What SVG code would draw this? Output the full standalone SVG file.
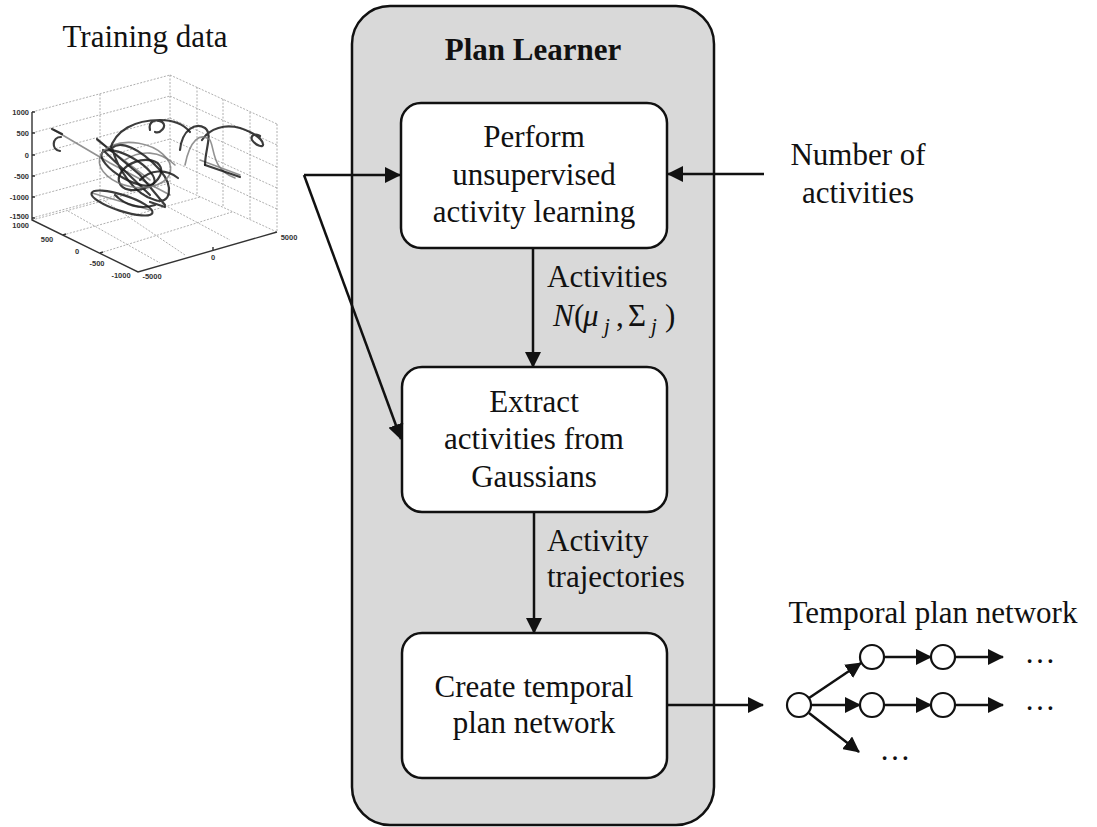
<svg xmlns="http://www.w3.org/2000/svg" width="1097" height="827" viewBox="0 0 1097 827">
<style>
  .t { font-family: "Liberation Serif", "Times New Roman", serif; font-size: 31px; fill: #111; }
  .tb { font-family: "Liberation Serif", "Times New Roman", serif; font-size: 31px; font-weight: bold; fill: #111; }
  .m { font-family: "Liberation Serif", "Times New Roman", serif; font-size: 31px; fill: #111; }
  .box { fill: #ffffff; stroke: #111; stroke-width: 2.5; }
  .edge { fill: none; stroke: #111; stroke-width: 2.5; }
  .grid { fill: none; stroke: #9a9a9a; stroke-width: 0.8; stroke-dasharray: 2 1.5; }
  .ax { fill: none; stroke: #333; stroke-width: 1.4; }
  .tick { font-family: "Liberation Sans", Arial, sans-serif; font-size: 7.5px; font-weight: bold; fill: #333; }
  .crv { fill: none; stroke: #1a1a1a; stroke-width: 2.2; stroke-linecap: round; opacity: 0.85; }
  .crvl { fill: none; stroke: #777; stroke-width: 1.6; stroke-linecap: round; opacity: 0.8; }
  .node { fill: #fff; stroke: #111; stroke-width: 2.2; }
</style>
<defs>
  <marker id="ah" markerUnits="userSpaceOnUse" markerWidth="16" markerHeight="16" viewBox="0 0 16 16" refX="15" refY="8" orient="auto">
    <path d="M0,0 L16,8 L0,16 z" fill="#111"/>
  </marker>
</defs>
<rect width="1097" height="827" fill="#fff"/>

<!-- Training data plot -->
<g id="training-data">
  <text class="t" x="145" y="47" text-anchor="middle">Training data</text>
  <g id="plot">
    <path class="grid" d="M32,112 L170,75 M32,133 L170,96 M32,155 L170,118 M32,176 L170,139 M32,197 L170,160 M32,218 L170,181 M100,94 L100,202 M170,75 L170,183"/>
    <path class="grid" d="M170,75 L277,124 M170,96 L277,145 M170,118 L277,167 M170,139 L277,188 M170,160 L277,209 M197,87 L197,195 M223,99 L223,207 M250,112 L250,220 M277,124 L277,232"/>
    <path class="grid" d="M32,220 L170,183 M63,235 L200,197 M100,253 L232,212 M170,183 L277,232 M140,192 L230,240 M105,201 L185,255 M68,211 L160,263"/>
    <path class="ax" d="M32,112 L32,220 L138,272 L277,232"/>
    <path class="ax" d="M32,112 h3 M32,133 h3 M32,155 h3 M32,176 h3 M32,197 h3 M32,218 h3 M63,235 l3,-1 M100,253 l3,-1 M213,250 l0,-3"/>
    <g class="tick">
      <text x="29" y="115" text-anchor="end">1000</text>
      <text x="29" y="136" text-anchor="end">500</text>
      <text x="29" y="158" text-anchor="end">0</text>
      <text x="29" y="179" text-anchor="end">-500</text>
      <text x="29" y="200" text-anchor="end">-1000</text>
      <text x="29" y="219" text-anchor="end">-1500</text>
      <text x="29" y="228" text-anchor="end">1000</text>
      <text x="47" y="242" text-anchor="middle">500</text>
      <text x="77" y="254" text-anchor="middle">0</text>
      <text x="97" y="266" text-anchor="middle">-500</text>
      <text x="121" y="278" text-anchor="middle">-1000</text>
      <text x="152" y="279" text-anchor="middle">-5000</text>
      <text x="213" y="260" text-anchor="middle">0</text>
      <text x="289" y="240" text-anchor="middle">5000</text>
    </g>
    <path class="crvl" d="M54,130 L110,163 L170,195 M97,140 L150,180 M92,193 L150,210 M200,160 L240,175 M125,160 C140,150 160,150 175,165"/>
    <path class="crv" d="M52,129 L62,134 M61,137 C52,137 51,150 60,151"/>
    <path class="crv" d="M97,139 L140,175 L165,205 M103,150 L150,195 M112,148 C120,140 140,148 160,170 C175,188 170,205 155,200 C135,195 118,170 112,148"/>
    <ellipse class="crv" cx="128" cy="168" rx="30" ry="11" transform="rotate(30 128 168)"/>
    <ellipse class="crv" cx="140" cy="175" rx="22" ry="14" transform="rotate(-20 140 175)"/>
    <ellipse class="crv" cx="122" cy="203" rx="32" ry="8" transform="rotate(18 122 203)" opacity="0.6"/>
    <ellipse class="crvl" cx="135" cy="165" rx="36" ry="22" transform="rotate(10 135 165)"/>
    <path class="crv" d="M110,150 C115,130 135,120 160,120 C175,120 185,126 190,132 M150,130 C148,122 155,118 162,122 C168,126 160,134 155,132"/>
    <path class="crv" d="M180,150 C182,130 195,122 205,128 C213,134 205,150 205,165 M202,140 C210,128 225,124 240,128 C252,132 262,138 263,144 C264,148 256,146 252,140 C250,135 256,133 260,136"/>
    <path class="crvl" d="M185,165 C190,140 200,132 210,140 C215,150 212,170 235,178"/>
    <path class="crv" d="M150,202 L165,207 M115,195 C125,205 140,210 155,205 M205,165 L240,177 M140,180 C150,170 165,168 178,178"/>
  </g>
</g>

<g id="plan-learner">
  <rect x="352" y="6" width="362" height="819" rx="38" fill="#d9d9d9" stroke="#111" stroke-width="2.5"/>
  <text class="tb" x="533" y="60" text-anchor="middle">Plan Learner</text>
</g>

<g id="box-learning">
  <rect class="box" x="401" y="103" width="266" height="145" rx="20"/>
  <text class="t" x="534" y="147" text-anchor="middle">Perform</text>
  <text class="t" x="534" y="185" text-anchor="middle">unsupervised</text>
  <text class="t" x="534" y="222" text-anchor="middle">activity learning</text>
</g>

<g id="box-extract">
  <rect class="box" x="402" y="367" width="265" height="145" rx="20"/>
  <text class="t" x="534" y="412" text-anchor="middle">Extract</text>
  <text class="t" x="534" y="449" text-anchor="middle">activities from</text>
  <text class="t" x="534" y="487" text-anchor="middle">Gaussians</text>
</g>

<g id="box-create">
  <rect class="box" x="402" y="633" width="265" height="145" rx="20"/>
  <text class="t" x="534" y="697" text-anchor="middle">Create temporal</text>
  <text class="t" x="534" y="733" text-anchor="middle">plan network</text>
</g>

<g id="number-of-activities">
  <text class="t" x="858" y="165" text-anchor="middle">Number of</text>
  <text class="t" x="858" y="203" text-anchor="middle">activities</text>
</g>

<g id="tpn">
  <text class="t" x="933" y="623" text-anchor="middle">Temporal plan network</text>
  <circle class="node" cx="799" cy="705" r="12"/>
  <circle class="node" cx="872" cy="657" r="12"/>
  <circle class="node" cx="943" cy="657" r="12"/>
  <circle class="node" cx="872" cy="705" r="12"/>
  <circle class="node" cx="943" cy="705" r="12"/>
  <text class="t" x="1040" y="663" text-anchor="middle" font-size="28">…</text>
  <text class="t" x="1040" y="710" text-anchor="middle" font-size="28">…</text>
  <text class="t" x="895" y="760" text-anchor="middle" font-size="28">…</text>
</g>

<g id="connectors">
  <path class="edge" d="M304,175 L400,175" marker-end="url(#ah)"/>
  <path class="edge" d="M304,175 L401,439" marker-end="url(#ah)"/>
  <path class="edge" d="M764,174 L668,174" marker-end="url(#ah)"/>
  <path class="edge" d="M533,248 L533,367" marker-end="url(#ah)"/>
  <path class="edge" d="M534,512 L534,633" marker-end="url(#ah)"/>
  <path class="edge" d="M667,705 L763,705" marker-end="url(#ah)"/>
  <path class="edge" d="M809,698 L861,663" marker-end="url(#ah)" stroke-width="2.2"/>
  <path class="edge" d="M811,705 L860,705" marker-end="url(#ah)" stroke-width="2.2"/>
  <path class="edge" d="M809,713 L859,752" marker-end="url(#ah)" stroke-width="2.2"/>
  <path class="edge" d="M884,657 L931,657" marker-end="url(#ah)" stroke-width="2.2"/>
  <path class="edge" d="M884,705 L931,705" marker-end="url(#ah)" stroke-width="2.2"/>
  <path class="edge" d="M955,657 L1003,657" marker-end="url(#ah)" stroke-width="2.2"/>
  <path class="edge" d="M955,705 L1003,705" marker-end="url(#ah)" stroke-width="2.2"/>
  <text class="t" x="547" y="287">Activities</text>
  <text class="m"><tspan x="553" y="326" font-style="italic">N</tspan><tspan x="574" y="326">(</tspan><tspan x="583" y="326" font-style="italic">μ</tspan><tspan x="604" y="333" font-style="italic" font-size="21">j</tspan><tspan x="616" y="326">,</tspan><tspan x="628" y="326">Σ</tspan><tspan x="651" y="333" font-style="italic" font-size="21">j</tspan><tspan x="665" y="326">)</tspan></text>
  <text class="t" x="547" y="551">Activity</text>
  <text class="t" x="547" y="587">trajectories</text>
</g>
</svg>
